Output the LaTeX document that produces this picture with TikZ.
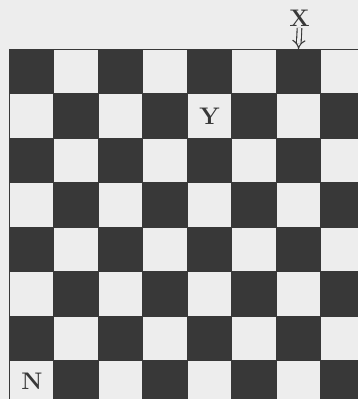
\documentclass[tikz,border=0pt]{standalone}
\usetikzlibrary{arrows.meta}
\definecolor{paper}{gray}{0.93}
\definecolor{ink}{gray}{0.22}

\begin{document}
\begin{tikzpicture}[
    x=1pt, y=-1pt,
    darksq/.style={fill=ink},
    gridline/.style={draw=ink, line width=0.8pt},
    lbl/.style={font=\fontsize{24}{24}\selectfont\bfseries, text=ink, inner sep=0pt},
    arrow/.style={double=paper, double distance=3.5pt, line width=1.1pt, draw=ink, -{Implies}},
]
\fill[paper] (0,0) rectangle (358,399);
\useasboundingbox (0,0) rectangle (358,399);

% Board, cut at the right and bottom edges
\begin{scope}
\clip (0,0) rectangle (358,399);
\foreach \r in {0,...,7}
  \foreach \c in {0,...,7} {
    \ifodd\numexpr\c+\r\relax\else
      \fill[darksq] (9+\c*44.5, 49+\r*44.5) rectangle ++(44.5,44.5);
    \fi
  }
\foreach \i in {0,...,8} {
  \draw[gridline] (9+\i*44.5, 49) -- (9+\i*44.5, 405);
  \draw[gridline] (9, 49+\i*44.5) -- (365, 49+\i*44.5);
}
\end{scope}

\node[lbl] (y) at (209.5, 116) {Y};
\node[lbl] (n) at (32, 381) {N};
\node[lbl] (x) at (299.5, 18) {X};
\coordinate (target) at (298.5, 49);

\draw[arrow] ([yshift=-1.5pt]x.south) -- (target);
\end{tikzpicture}
\end{document}
